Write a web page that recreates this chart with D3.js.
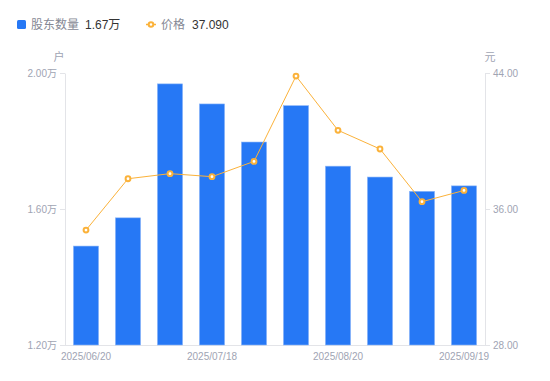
<!DOCTYPE html>
<html>
<head>
<meta charset="utf-8">
<script src="https://cdn.jsdelivr.net/npm/d3@7"></script>
<style>
  body { margin: 0; background: #fff; font-family: "Liberation Sans", Arial, "Noto Sans CJK SC", sans-serif; }
  svg text { font-family: "Liberation Sans", Arial, "Noto Sans CJK SC", sans-serif; }
</style>
</head>
<body>
<svg id="chart" width="550" height="381"></svg>
<script>
const dates = ["2025/06/20", "2025/06/30", "2025/07/10", "2025/07/18", "2025/07/31",
  "2025/08/10", "2025/08/20", "2025/08/31", "2025/09/10", "2025/09/19"];
const holders = [1.491, 1.574, 1.968, 1.909, 1.797, 1.904, 1.726, 1.694, 1.652, 1.668]; // 万户
const prices = [34.76, 37.78, 38.08, 37.90, 38.80, 43.82, 40.63, 39.53, 36.43, 37.09];
const shownDates = ["2025/06/20", "2025/07/18", "2025/08/20", "2025/09/19"];
const leftTicks = [1.2, 1.6, 2.0];
const rightTicks = [28, 36, 44];

const svg = d3.select("#chart");
const margin = { top: 73, right: 65, bottom: 36, left: 65 };
const width = 550, height = 381;
const blue = "#2678f5", orange = "#fbb23a", grey = "#a0a4b3", axisCol = "#e3e4e8";

const x = d3.scaleBand().domain(dates).range([margin.left, width - margin.right]).paddingInner(0.4).paddingOuter(0.2);
const yL = d3.scaleLinear().domain([1.2, 2.0]).range([height - margin.bottom, margin.top]);
const yR = d3.scaleLinear().domain([28, 44]).range([height - margin.bottom, margin.top]);

// legend
const lg = svg.append("g").attr("font-size", 12);
lg.append("rect").attr("x", 17).attr("y", 20).attr("width", 9).attr("height", 9).attr("rx", 1.5).attr("fill", blue);
lg.append("text").attr("x", 31).attr("y", 29).attr("fill", "#858894").text("股东数量");
lg.append("text").attr("x", 85).attr("y", 29).attr("fill", "#333").text(holders[holders.length - 1].toFixed(2) + "万");
lg.append("line").attr("x1", 146).attr("x2", 156).attr("y1", 24.5).attr("y2", 24.5).attr("stroke", orange).attr("stroke-width", 1.5);
lg.append("circle").attr("cx", 151).attr("cy", 24.5).attr("r", 2.3).attr("fill", "#fff").attr("stroke", orange).attr("stroke-width", 2);
lg.append("text").attr("x", 161).attr("y", 29).attr("fill", "#858894").text("价格");
lg.append("text").attr("x", 192).attr("y", 29).attr("fill", "#333").text(prices[prices.length - 1].toFixed(3));

// unit labels
svg.append("text").attr("x", 59).attr("y", 61).attr("text-anchor", "middle").attr("font-size", 11).attr("fill", grey).text("户");
svg.append("text").attr("x", 490).attr("y", 61).attr("text-anchor", "middle").attr("font-size", 11).attr("fill", grey).text("元");

// axes
function styleAxis(g) {
  g.select(".domain").attr("stroke", axisCol);
  g.selectAll(".tick line").attr("stroke", axisCol);
  g.selectAll(".tick text").attr("fill", grey).attr("font-size", 10);
}
svg.append("g").attr("transform", `translate(${margin.left},0)`)
  .call(d3.axisLeft(yL).tickValues(leftTicks).tickSize(5).tickSizeOuter(0).tickPadding(3).tickFormat(d => d3.format(".2f")(d) + "万"))
  .call(styleAxis);
svg.append("g").attr("transform", `translate(${width - margin.right},0)`)
  .call(d3.axisRight(yR).tickValues(rightTicks).tickSize(5).tickSizeOuter(0).tickPadding(3).tickFormat(d3.format(".2f")))
  .call(styleAxis);
svg.append("g").attr("transform", `translate(0,${height - margin.bottom})`)
  .call(d3.axisBottom(x).tickValues(shownDates).tickSize(0).tickSizeOuter(0).tickPadding(8))
  .call(styleAxis)
  .call(g => g.select(".domain").attr("d", `M${margin.left},0.5H${width - margin.right}`));

// bars
svg.append("g").selectAll("rect").data(dates).join("rect")
  .attr("x", d => x(d))
  .attr("width", x.bandwidth())
  .attr("y", (d, i) => yL(holders[i]))
  .attr("height", (d, i) => yL(1.2) - yL(holders[i]))
  .attr("fill", blue)
  .attr("stroke", "#8fb8f8").attr("stroke-width", 0.6);

// price line
const cx = d => x(d) + x.bandwidth() / 2;
svg.append("path").datum(dates)
  .attr("fill", "none").attr("stroke", orange).attr("stroke-width", 1)
  .attr("d", d3.line().x(d => cx(d)).y((d, i) => yR(prices[i])));
svg.append("g").selectAll("circle").data(dates).join("circle")
  .attr("cx", d => cx(d)).attr("cy", (d, i) => yR(prices[i]))
  .attr("r", 2.4).attr("fill", "#fff").attr("stroke", orange).attr("stroke-width", 2);
</script>
</body>
</html>
